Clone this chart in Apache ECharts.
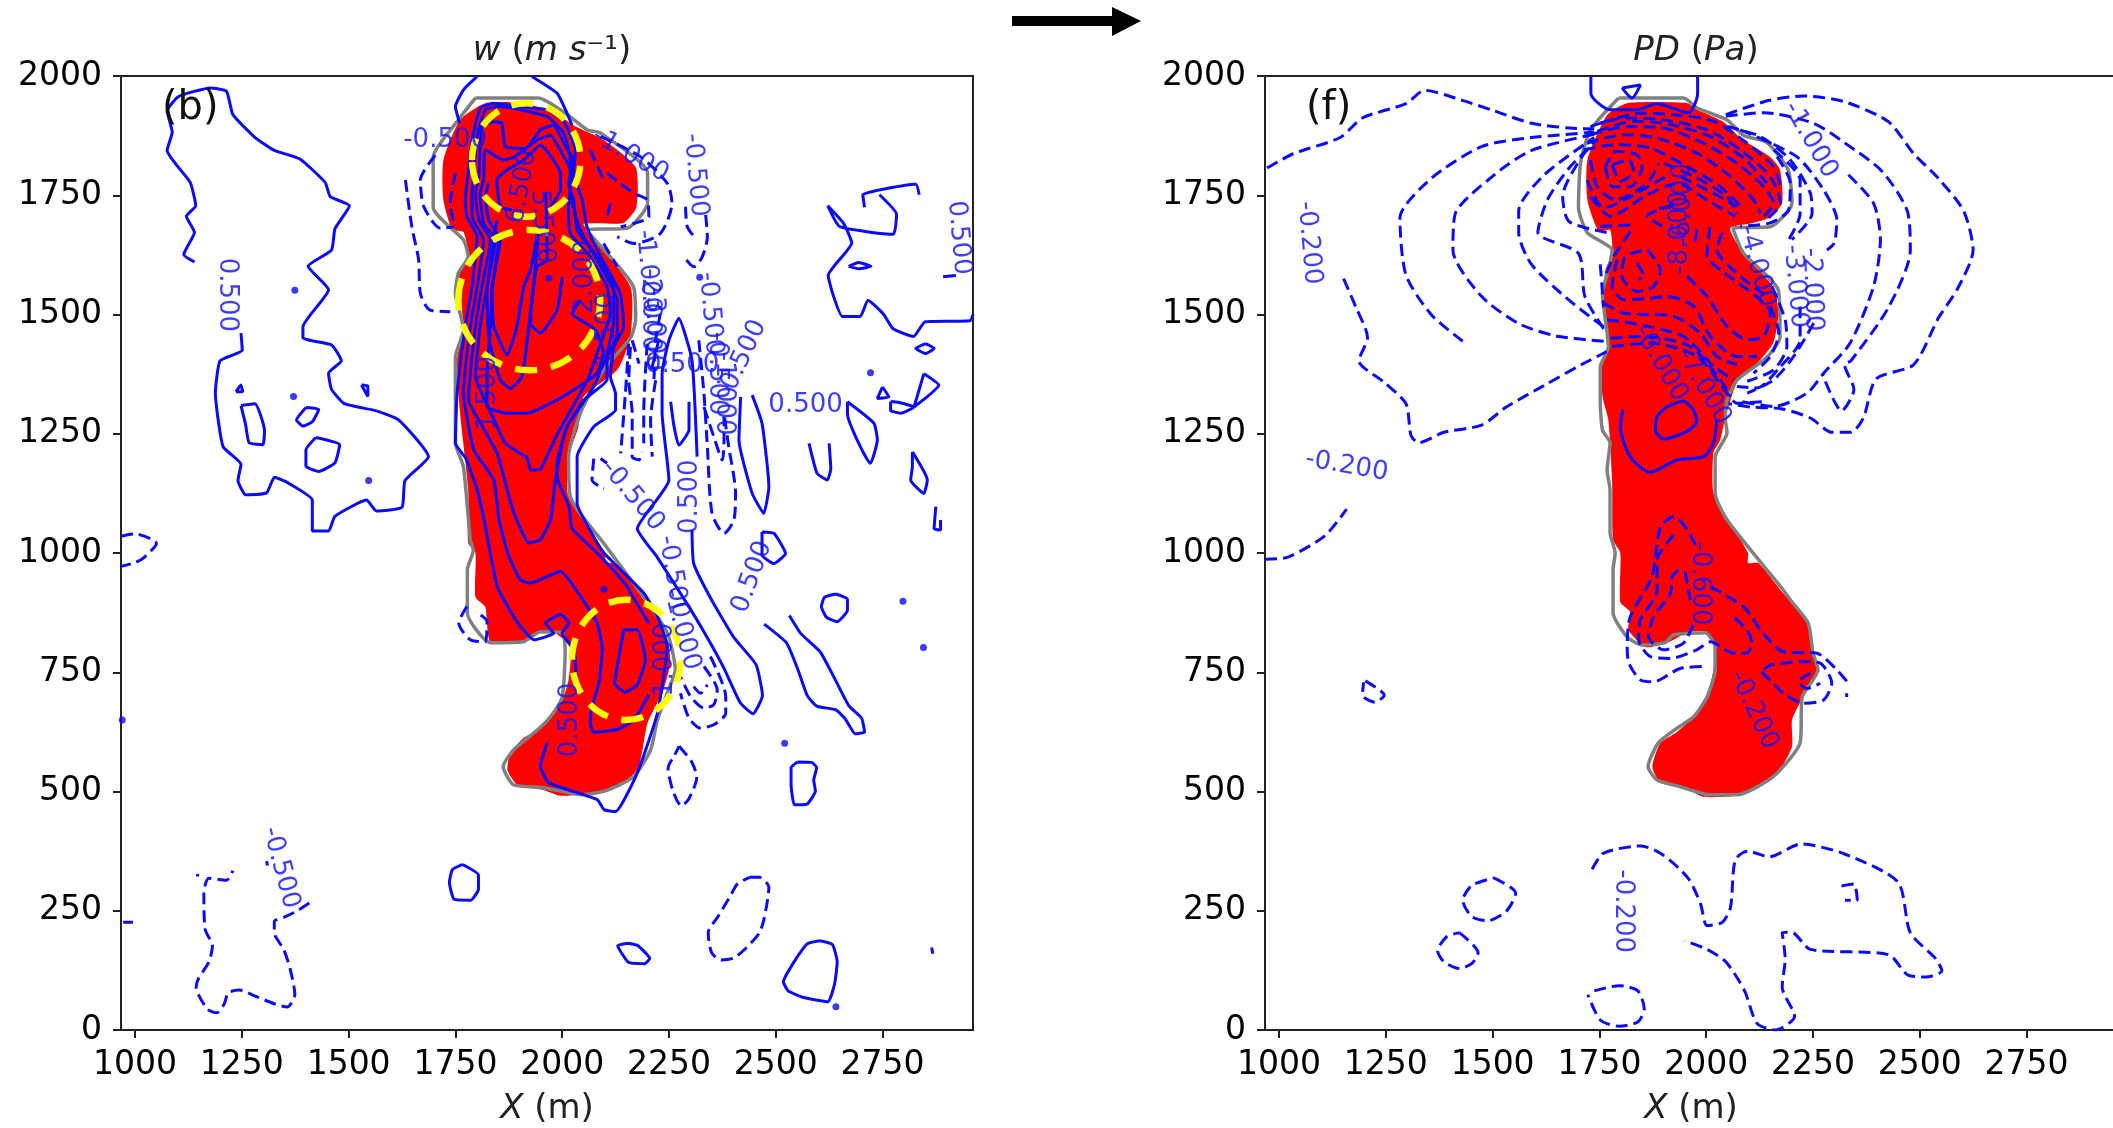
<!DOCTYPE html>
<html><head><meta charset="utf-8">
<style>html,body{margin:0;padding:0;background:#fff;overflow:hidden}#c{width:2113px;height:1128px}</style>
<script src="https://cdn.jsdelivr.net/npm/echarts@6/dist/echarts.min.js"></script>
</head><body><div id="c"></div>
<script>
const xTicks=[1000,1250,1500,1750,2000,2250,2500,2750];
const yTicks=[0,250,500,750,1000,1250,1500,1750,2000];

const plumeW=[[1820,1943],[1909,1943],[1979,1925],[2026,1897],[2097,1866],[2172,1809],[2174,1725],[2143,1692],[2050,1690],[2066,1671],[2160,1558],[2160,1453],[2129,1384],[2050,1327],[2038,1264],[2015,1201],[2015,1118],[2101,1000],[2101,979],[2120,979],[2190,916],[2246,818],[2253,770],[2237,713],[2200,644],[2188,587],[2176,545],[2129,510],[2082,497],[1996,491],[1956,503],[1895,514],[1872,545],[1879,581],[1909,612],[1942,629],[1977,661],[2000,692],[2015,734],[2019,803],[1979,835],[1949,835],[1902,814],[1832,814],[1820,887],[1797,908],[1797,1000],[1780,1021],[1780,1132],[1761,1294],[1754,1405],[1769,1474],[1757,1579],[1780,1621],[1769,1673],[1743,1677],[1722,1740],[1722,1824],[1761,1908]];
const outlineW=[[1797,1954],[1944,1954],[2003,1925],[2059,1887],[2089,1881],[2200,1797],[2200,1734],[2153,1681],[2059,1677],[2167,1558],[2172,1489],[2160,1451],[2097,1384],[2043,1294],[2015,1201],[2019,1118],[2097,1021],[2190,908],[2246,833],[2265,755],[2246,707],[2223,650],[2207,587],[2167,531],[2106,503],[2050,493],[1956,508],[1886,514],[1862,552],[1886,587],[1942,629],[1972,656],[2000,698],[2007,797],[2000,833],[1949,835],[1909,814],[1832,812],[1778,874],[1778,965],[1792,1006],[1785,1027],[1769,1180],[1750,1231],[1750,1336],[1750,1411],[1769,1468],[1750,1545],[1757,1587],[1780,1621],[1769,1656],[1698,1725],[1698,1830],[1757,1908],[1797,1954]];
const plumeP=[[1815,1943],[1956,1943],[1979,1929],[2040,1904],[2080,1870],[2150,1830],[2173,1803],[2178,1734],[2150,1704],[2110,1692],[2056,1681],[2087,1629],[2157,1558],[2169,1503],[2157,1440],[2110,1388],[2073,1359],[2045,1285],[2033,1237],[2017,1210],[2017,1126],[2049,1076],[2098,1000],[2098,979],[2122,979],[2180,916],[2239,853],[2248,791],[2262,755],[2227,698],[2201,650],[2201,594],[2166,539],[2080,493],[1993,489],[1946,510],[1893,518],[1874,552],[1893,602],[1932,625],[1970,656],[2002,698],[2017,755],[2021,803],[2002,835],[1956,833],[1909,812],[1857,803],[1818,839],[1822,877],[1799,897],[1799,1000],[1782,1027],[1780,1147],[1771,1279],[1759,1321],[1752,1377],[1771,1440],[1759,1516],[1764,1593],[1780,1629],[1775,1677],[1747,1677],[1722,1740],[1722,1824],[1768,1918]];
const outlineP=[[1795,1954],[1947,1954],[1979,1933],[2049,1908],[2087,1876],[2143,1860],[2192,1803],[2201,1734],[2150,1684],[2063,1681],[2087,1629],[2169,1551],[2173,1453],[2143,1411],[2073,1363],[2049,1321],[2045,1279],[2049,1252],[2021,1201],[2021,1126],[2049,1069],[2180,923],[2197,902],[2239,853],[2250,791],[2262,755],[2225,698],[2220,602],[2157,531],[2073,493],[2009,493],[1939,510],[1885,524],[1864,552],[1888,602],[1932,633],[1970,656],[2002,698],[2021,755],[2021,803],[1998,833],[1923,828],[1904,812],[1851,807],[1815,824],[1782,874],[1782,965],[1787,1000],[1775,1042],[1775,1132],[1768,1174],[1775,1231],[1757,1258],[1752,1321],[1752,1390],[1771,1432],[1757,1545],[1771,1593],[1780,1635],[1722,1671],[1701,1725],[1706,1818],[1729,1887],[1795,1954]];

const yellowCircles=[[1916,1824,127,119],[1923,1530,166,147],[2150,776,127,126]];

const wSolid=[
[[1139,1610],[1114,1626],[1139,1672],[1120,1706],[1142,1728],[1129,1777],[1075,1844],[1087,1882],[1075,1927],[1102,1957],[1176,1975],[1214,1968],[1229,1919],[1281,1871],[1326,1844],[1386,1826],[1445,1777],[1457,1747],[1502,1728],[1468,1680],[1460,1635],[1405,1601],[1453,1552],[1393,1474],[1393,1451],[1460,1436],[1483,1403],[1453,1377],[1460,1343],[1490,1313],[1565,1298],[1617,1279],[1687,1202],[1632,1152],[1625,1096],[1565,1088],[1542,1111],[1468,1077],[1453,1046],[1415,1046],[1415,1111],[1356,1148],[1326,1159],[1308,1126],[1259,1122],[1241,1152],[1248,1186],[1206,1223],[1188,1335],[1199,1403],[1251,1425],[1248,1461]],
[[1248,1309],[1281,1313],[1303,1257],[1299,1227],[1267,1231],[1259,1268],[1248,1309]],
[[1400,1305],[1430,1301],[1415,1275],[1393,1266],[1378,1279],[1400,1305]],
[[1423,1242],[1479,1227],[1468,1189],[1430,1171],[1400,1182],[1400,1216],[1423,1242]],
[[1767,347],[1804,325],[1804,295],[1786,272],[1747,274],[1736,310],[1743,336],[1767,347]],
[[2155,182],[2177,177],[2205,150],[2193,139],[2155,142],[2130,177],[2155,182]],
[[2603,187],[2633,179],[2644,143],[2638,97],[2622,59],[2566,68],[2529,82],[2518,101],[2551,154],[2574,181],[2603,187]],
[[2551,562],[2584,561],[2596,550],[2589,524],[2593,501],[2574,474],[2544,472],[2536,516],[2536,550],[2551,562]],
[[2641,914],[2668,903],[2668,880],[2644,856],[2619,865],[2607,888],[2614,907],[2641,914]],
[[2532,869],[2559,831],[2604,793],[2634,744],[2671,680],[2701,654],[2708,625],[2686,621],[2663,652],[2641,671],[2596,679],[2574,701],[2551,758],[2525,812],[2473,851]],
[[2304,1048],[2308,978],[2349,903],[2402,823],[2454,766],[2469,701],[2447,663],[2417,686],[2379,758],[2342,819],[2297,887],[2222,992],[2176,1051],[2250,1153],[2234,1293],[2234,1376],[2250,1446],[2273,1492],[2304,1404],[2316,1202]],
[[2254,1317],[2262,1265],[2273,1226],[2297,1258],[2297,1317]],
[[2418,1327],[2414,1237],[2445,1125],[2472,1083],[2484,1139],[2468,1272],[2445,1331]],
[[2668,1317],[2730,1272],[2738,1237],[2722,1188],[2668,1292],[2668,1317]],
[[2578,1230],[2597,1167],[2621,1153],[2629,1177],[2625,1230]],
[[2468,1044],[2496,1041],[2523,999],[2496,978],[2468,996],[2468,1044]],
[[2820,1212],[2855,1153],[2847,1125],[2816,1153],[2820,1181],[2820,1212]],
[[2875,1097],[2871,1051],[2886,1048],[2886,1069]],
[[2847,1376],[2882,1352],[2824,1306],[2847,1376]],
[[2769,1317],[2769,1299],[2793,1293],[2824,1306],[2777,1317],[2769,1317]],
[[2750,1348],[2765,1327],[2738,1324],[2750,1348]],
[[2851,1439],[2871,1429],[2851,1418],[2828,1429],[2851,1439]],
[[2962,1500],[2955,1487],[2850,1485],[2823,1454],[2775,1470],[2753,1500],[2716,1530],[2698,1496],[2656,1496],[2633,1545],[2623,1582],[2678,1650],[2659,1691],[2622,1728],[2650,1684],[2775,1668],[2783,1710],[2743,1751]],
[[2708,1725],[2704,1751],[2828,1773],[2836,1751]],
[[2671,1601],[2694,1609],[2723,1601],[2694,1596],[2671,1601]],
[[2892,1579],[2922,1582]],
[[972,226],[995,226]],
[[2865,173],[2868,160]],
[[1236,1338],[1248,1352],[1252,1338],[1236,1338]],
[[1530,1352],[1545,1350],[1545,1328],[1530,1352]],
[[1801,1999],[1769,1971],[1750,1936],[1760,1901]],
[[1929,1999],[1988,1964],[2008,1929],[2023,1897]],
[[1965,602],[1949,553],[1969,518],[2082,483],[2098,462],[2125,458],[2176,539],[2223,664],[2246,804],[2223,867],[2191,916],[2098,1000],[2074,1034],[2035,1104],[2035,1202],[2074,1265],[2125,1300],[2125,1334],[2113,1369],[2121,1432],[2144,1475],[2136,1544],[2090,1621],[2058,1684],[2047,1740],[2027,1796],[2031,1845],[2004,1904],[1965,1929],[1894,1936],[1840,1943],[1808,1932],[1789,1866],[1781,1803],[1773,1740],[1777,1705],[1801,1663],[1789,1558],[1773,1475],[1754,1335],[1750,1230],[1774,1199],[1801,1132],[1817,1070],[1848,930],[1891,860],[1934,818],[1980,832],[1961,853],[1996,871],[2016,853],[2000,832],[2027,797],[2033,741]],
[[2203,703],[2168,650],[2129,630],[2074,624],[2066,644],[2070,678],[2086,727],[2094,797],[2082,853],[2043,909],[1996,961],[1926,937],[1902,944],[1875,993],[1852,1070],[1840,1153],[1793,1216],[1774,1300],[1769,1335],[1785,1474],[1801,1558],[1816,1656],[1789,1705],[1789,1754],[1793,1789],[1801,1873],[1820,1929],[1855,1936],[1902,1929],[1965,1915],[2004,1880],[2019,1824],[2019,1803],[2019,1754],[2043,1677],[2082,1614],[2129,1530],[2129,1460],[2090,1384],[2082,1363],[2059,1328],[2012,1265],[1988,1188],[1988,1160],[2016,1097],[2023,1052],[2090,993],[2152,930],[2160,916],[2203,853]],
[[2105,1419],[2121,1488],[2121,1558],[2082,1621],[2035,1677],[2027,1740],[2015,1775],[2027,1824],[2008,1852],[1980,1897],[1949,1887],[1914,1848],[1867,1852],[1859,1901],[1840,1904],[1812,1894],[1805,1789],[1797,1754],[1805,1698],[1832,1656],[1812,1558],[1797,1475],[1781,1321],[1809,1272],[1848,1209],[1863,1160],[1887,1084],[1922,1021],[1949,1028],[1973,1070],[1984,1153],[2008,1258],[2051,1321],[2105,1363],[2105,1419]],
[[2090,1440],[2113,1502],[2105,1558],[2066,1621],[2019,1670],[2015,1726],[2023,1796],[2004,1831],[1972,1876],[1941,1866],[1890,1831],[1863,1824],[1820,1845],[1816,1782],[1808,1754],[1816,1691],[1844,1656],[1824,1558],[1808,1475],[1797,1370],[1828,1304],[1867,1230],[1918,1199],[1926,1174],[1949,1176],[1988,1248],[2059,1363],[2090,1440]],
[[2043,1530],[2023,1502],[2078,1468],[2097,1419],[2082,1377],[2051,1356],[1988,1321],[1918,1293],[1871,1293],[1824,1307],[1824,1370],[1832,1475],[1836,1558],[1855,1656],[1828,1698],[1820,1747],[1828,1775]],
[[1855,1670],[1836,1544],[1840,1475],[1871,1415],[1894,1475],[1910,1558],[1926,1593],[1941,1663]],
[[1847,1698],[1824,1544],[1828,1453],[1855,1363],[1879,1345],[1906,1370],[1922,1475],[1933,1558],[1945,1677]],
[[1883,1719],[1855,1726],[1847,1782],[1871,1803],[1910,1824],[1949,1855],[1996,1796],[1996,1761],[1972,1726]],
[[2000,1579],[1988,1509],[1949,1461],[1926,1481],[1929,1530],[1941,1600],[1965,1614],[1962,1754]],
[[2144,839],[2176,839],[2195,776],[2176,724],[2148,708],[2123,727],[2133,783],[2144,839]]
];
const wDashed=[
[[967,1035],[1000,1040],[1050,1020],[1020,990],[1000,980],[967,972]],
[[1408,266],[1378,249],[1348,236],[1326,228],[1326,204],[1348,169],[1363,128],[1374,74],[1356,48],[1326,55],[1281,71],[1244,84],[1218,78],[1209,55],[1191,36],[1169,44],[1143,90],[1149,109],[1173,143],[1181,177],[1164,211],[1161,287],[1173,318],[1214,314],[1229,334]],
[[1146,327],[1147,322]],
[[1308,354],[1310,345]],
[[2439,320],[2462,320],[2484,299],[2473,234],[2462,204],[2432,173],[2402,151],[2372,147],[2350,162],[2342,204],[2365,238],[2395,283],[2410,306],[2439,320]],
[[2274,595],[2304,561],[2315,530],[2297,485],[2279,470],[2260,500],[2248,549],[2263,576],[2274,595]],
[[1633,1782],[1648,1684],[1664,1614],[1668,1544],[1691,1509],[1738,1506]],
[[1703,1834],[1668,1782],[1676,1726],[1715,1681],[1746,1684]],
[[1750,1796],[1738,1733],[1746,1691]],
[[2090,1873],[2183,1831],[2246,1775],[2257,1733],[2230,1670],[2168,1649],[2129,1663]],
[[2105,1796],[2168,1754],[2199,1740],[2203,1705],[2168,1691],[2137,1684]],
[[2113,1733],[2105,1705]],
[[2097,1649],[2129,1600]],
[[2066,1845],[2097,1782]],
[[2289,1726],[2293,1684],[2312,1660]],
[[2336,1709],[2340,1663],[2328,1621],[2308,1600],[2285,1621]],
[[2164,1446],[2180,1397]],
[[2160,1432],[2156,1362],[2164,1293],[2164,1202],[2180,1195],[2187,1212]],
[[2156,1439],[2148,1334],[2137,1209]],
[[2199,1439],[2191,1293],[2191,1230]],
[[2219,1362],[2207,1279],[2211,1202]],
[[2230,1502],[2219,1446],[2215,1362]],
[[2226,1446],[2207,1376]],
[[2320,1446],[2332,1334],[2340,1223],[2351,1083],[2379,1041],[2402,1069],[2406,1125],[2390,1223],[2379,1293]],
[[2332,1306],[2355,1244],[2375,1195],[2379,1244],[2379,1285]],
[[2074,1198],[2070,1153],[2098,1135]],
[[2090,1198],[2105,1188]],
[[1777,888],[1758,853],[1785,818],[1820,814],[1824,856],[1797,877]],
[[2347,783],[2383,699],[2383,664],[2355,640],[2324,633],[2297,654],[2277,706]],
[[2332,762],[2363,713],[2355,682],[2332,675],[2301,699],[2277,741]],
[[2308,720],[2324,706],[2340,724]]
];
const wDots=[[1374,1551],[1371,1328],[1547,1152],[970,650],[2641,49],[2798,899],[2846,802],[2521,601],[2722,1378],[2322,1578],[1969,1576],[2121,900],[2098,924]];
const wLabels=[
[1214,1541,'0.500',-90],[1726,1866,'-0.500',0],[2160,1834,'-1.000',-30],[1906,1768,'6.500',80],[1953,1684,'5.500',-85],[2054,1579,'2.000',90],[2105,1468,'1.500',90],[2200,1590,'-1.000',-85],[2205,1509,'-2.000',-90],[2215,1470,'-3.000',-90],[2281,1394,'0.500',0],[2347,1502,'-0.500',-85],[2363,1376,'-0.500',-90],[2379,1334,'-1.000',-90],[2426,1415,'0.500',65],[2570,1310,'0.500',0],[2301,1118,'0.500',90],[2165,1120,'-0.500',-50],[2260,950,'-0.500',-80],[2280,840,'-1.000',-75],[2445,950,'0.500',70],[2020,650,'0.500',90],[2242,776,'1.000',90],[2312,1792,'-0.500',-85],[2929,1661,'0.500',-85],[1341,340,'-0.500',-75],[1826,1335,'1.500',90]
];

const pdSolid=[
[[1730,1998],[1730,1964],[1776,1929],[1838,1929],[1884,1942],[1958,1923],[1980,1964],[1980,1998]],
[[1803,1975],[1846,1981],[1826,1954],[1803,1975]],
[[1908,1307],[1947,1318],[1970,1300],[1978,1276],[1955,1255],[1900,1239],[1881,1258],[1885,1286],[1908,1307]],
[[1805,1300],[1799,1265],[1822,1202],[1869,1169],[1931,1195],[1994,1202],[2017,1230],[2025,1279]]
];
const pdDashed=[
[[972,1807],[1033,1837],[1143,1871],[1195,1912],[1297,1942],[1341,1970],[1429,1949],[1503,1927],[1591,1901],[1679,1891],[1738,1889]],
[[1151,1575],[1180,1515],[1207,1452],[1187,1403],[1246,1358],[1297,1313],[1309,1246],[1327,1231],[1386,1253],[1474,1268],[1532,1306],[1620,1351],[1708,1395],[1767,1422]],
[[967,987],[1019,991],[1107,1036],[1158,1092]],
[[1430,1444],[1356,1500],[1297,1583],[1283,1702],[1356,1785],[1474,1852],[1591,1871],[1738,1882]],
[[1760,1444],[1649,1455],[1561,1481],[1474,1538],[1407,1635],[1412,1710],[1503,1792],[1591,1844],[1738,1878]],
[[1760,1474],[1679,1530],[1591,1605],[1561,1672],[1561,1717],[1620,1792],[1738,1871]],
[[1760,1470],[1716,1538],[1701,1628],[1606,1672],[1628,1740],[1679,1807],[1738,1860]],
[[1767,1672],[1679,1695],[1664,1747],[1708,1830],[1745,1867]],
[[1752,1605],[1760,1515]],
[[2046,1919],[2148,1949],[2229,1958],[2324,1946],[2427,1904],[2486,1837],[2544,1785],[2603,1717],[2625,1635],[2588,1553],[2544,1493],[2486,1395],[2398,1365],[2368,1283],[2339,1253],[2295,1253],[2244,1283],[2178,1302],[2104,1306],[2053,1313]],
[[2046,1916],[2134,1923],[2251,1901],[2324,1860],[2412,1800],[2471,1717],[2478,1635],[2427,1515],[2339,1403],[2324,1395],[2346,1343],[2317,1298],[2273,1373]],
[[2333,1793],[2392,1733],[2408,1657],[2392,1559],[2337,1440],[2275,1377],[2236,1335],[2158,1307],[2080,1318]],
[[2080,1887],[2212,1831],[2275,1761],[2306,1698],[2300,1650],[2283,1635]],
[[2252,1482],[2205,1412],[2158,1363],[2096,1335]],
[[2049,1894],[2127,1873],[2197,1824],[2244,1754],[2248,1712],[2201,1657]],
[[2220,1517],[2220,1447],[2174,1391],[2119,1346],[2072,1349]],
[[2158,1845],[2220,1782],[2220,1712],[2189,1650]],
[[2166,1831],[2197,1775],[2193,1719],[2150,1692],[2080,1685]],
[[2154,1559],[2185,1489],[2189,1433],[2158,1384],[2096,1360]],
[[2150,1517],[2170,1461],[2150,1412],[2111,1377]],
[[1729,1894],[1807,1912],[1901,1908],[2002,1887],[2080,1845],[2150,1789],[2174,1733],[2142,1699]],
[[1729,1877],[1815,1894],[1901,1891],[1994,1859],[2072,1817],[2127,1775],[2158,1733],[2135,1706]],
[[1721,1859],[1807,1877],[1885,1870],[1979,1838],[2057,1789],[2111,1740],[2127,1713]],
[[1713,1845],[1784,1856],[1869,1849],[1955,1810],[2033,1768],[2088,1720]],
[[1901,1817],[1979,1786],[2049,1747],[2072,1712]],
[[1940,1789],[2018,1754],[2072,1726]],
[[1752,1901],[1846,1922],[1924,1919],[2018,1905],[2096,1859],[2158,1810],[2177,1761]],
[[1745,1884],[1830,1905],[1908,1900],[2010,1873],[2088,1828],[2142,1775]],
[[1780,1814],[1799,1779],[1830,1800],[1819,1824],[1780,1814]],
[[1764,1810],[1780,1768],[1823,1768],[1850,1810],[1838,1835],[1788,1842],[1764,1810]],
[[1729,1824],[1745,1768],[1788,1740],[1862,1775],[1889,1817]],
[[1721,1782],[1760,1723],[1823,1747],[1912,1793]],
[[1729,1747],[1776,1706],[1862,1751],[1932,1775],[2002,1740],[2068,1706]],
[[1752,1685],[1826,1688]],
[[1924,1730],[1862,1706],[1897,1685]],
[[1889,1723],[1932,1726]],
[[1823,1674],[1784,1622],[1764,1580]],
[[1862,1636],[1893,1594],[1877,1559],[1838,1548],[1803,1580],[1811,1622],[1862,1636]],
[[1838,1608],[1854,1580],[1842,1573]],
[[1791,1615],[1780,1559],[1807,1531],[1869,1534],[1908,1538],[1971,1517],[2010,1454],[2072,1412],[2119,1412]],
[[1760,1524],[1807,1503],[1924,1496],[1986,1461],[2025,1412],[2072,1395]],
[[1768,1489],[1823,1482],[1947,1454],[2018,1391],[2064,1363]],
[[1776,1450],[1854,1454],[1963,1433],[2033,1363],[2057,1328]],
[[1780,1433],[1869,1440],[1979,1412],[2049,1335],[2072,1314],[2142,1318]],
[[1955,1580],[2002,1538],[2049,1475],[2096,1447],[2135,1454],[2150,1503],[2127,1531],[2033,1594],[2002,1622],[2010,1692]],
[[2037,1671],[2025,1636],[2080,1580],[2142,1538]],
[[1979,1678],[1971,1643]],
[[1975,1017],[1951,1055],[1924,1076],[1893,1055],[1873,950],[1822,866],[1815,804],[1819,769],[1846,734],[1877,730],[1939,758],[2002,762]],
[[1924,1038],[1885,985],[1885,922],[1846,860],[1842,818],[1869,783],[1916,779],[1978,797],[2010,814],[2064,790],[2095,790],[2107,811],[2095,839],[2064,866]],
[[1935,964],[1920,950],[1916,915],[1877,866],[1865,825],[1900,797],[1947,811],[1971,853]],
[[1951,961],[1963,901]],
[[2010,929],[2088,887],[2134,831],[2181,793],[2259,790],[2306,755],[2337,723]],
[[2329,706],[2329,698]],
[[2130,751],[2181,706],[2228,685],[2275,692],[2294,727],[2267,769],[2228,772],[2150,765],[2130,751]],
[[2244,748],[2216,730],[2236,716],[2267,727]],
[[1202,732],[1246,702],[1224,687],[1195,702],[1198,729]],
[[1503,319],[1554,287],[1532,249],[1488,229],[1451,238],[1430,272],[1451,303],[1503,319]],
[[1422,204],[1466,162],[1451,139],[1422,129],[1386,143],[1371,166],[1393,196],[1422,204]],
[[1738,82],[1796,93],[1840,82],[1855,44],[1840,17],[1796,8],[1752,21],[1723,74]],
[[1733,337],[1760,371],[1848,386],[1899,367],[1958,318],[1987,264],[2002,219],[2038,226],[2057,257],[2068,356],[2097,375],[2148,363],[2222,390],[2324,369],[2449,310],[2478,204],[2537,150],[2552,124],[2515,111],[2471,116],[2427,158],[2244,169],[2200,205],[2178,204],[2185,150],[2178,90],[2207,29],[2163,0],[2119,14],[2090,82],[2046,143],[2002,169],[1950,187]],
[[2317,302],[2346,306],[2354,272],[2325,272]]
];
const pdLabels=[
[1070,1650,'-0.200',-85],[1158,1182,'-0.200',-10],[1804,249,'-0.200',-90],[2111,671,'-0.200',-65],[1986,936,'-0.600',-90],[2244,1866,'-1.000',-60],[2248,1552,'-2.000',-88],[2209,1559,'-3.000',-85],[2119,1601,'-4.000',-75],[1940,1671,'-8.000',90],[1947,1730,'-6.000',90],[1893,1398,'-6.000',-60],[1994,1349,'-7.000',-60]
];

const FONT='"DejaVu Sans"';
const BLUE='#0a0aff';
function polygonSeries(pts,idx){
  return {type:'custom',xAxisIndex:idx,yAxisIndex:idx,z:2,silent:true,encode:{x:0,y:1},data:pts,
    renderItem(p,api){ if(p.dataIndex!==0) return null;
      return {type:'polygon',shape:{points:pts.map(q=>api.coord(q)),smooth:.2},style:{fill:'#ff0000',stroke:null}};}};
}
function lineSeries(pts,idx,opt){
  return {type:'line',xAxisIndex:idx,yAxisIndex:idx,data:pts,symbol:'none',silent:true,z:opt.z,smooth:opt.smooth,animation:false,
    lineStyle:{color:opt.color,width:opt.width,type:opt.dash||'solid'}};
}
function labelSeries(list,idx){
  return {type:'custom',xAxisIndex:idx,yAxisIndex:idx,z:7,silent:true,encode:{x:0,y:1},data:list.map(l=>[l[0],l[1]]),
    renderItem(p,api){ const l=list[p.dataIndex]; const c=api.coord([l[0],l[1]]);
      return {type:'text',x:c[0],y:c[1],rotation:l[3]*Math.PI/180,
        style:{text:l[2],fill:'#1414ff',opacity:.82,font:'26px '+FONT,align:'center',verticalAlign:'middle'}};}};
}
const series=[
 polygonSeries(plumeW,0),polygonSeries(plumeP,1),
 lineSeries(outlineW,0,{z:3,color:'#808080',width:3.5,smooth:.2}),
 lineSeries(outlineP,1,{z:3,color:'#808080',width:3.5,smooth:.2})
];
wSolid.forEach(p=>series.push(lineSeries(p,0,{z:4,color:BLUE,width:3,smooth:.15})));
wDashed.forEach(p=>series.push(lineSeries(p,0,{z:4,color:BLUE,width:3,smooth:.25,dash:[12,6]})));
pdSolid.forEach(p=>series.push(lineSeries(p,1,{z:4,color:BLUE,width:3,smooth:.25})));
pdDashed.forEach(p=>series.push(lineSeries(p,1,{z:4,color:BLUE,width:3,smooth:.25,dash:[12,6]})));
series.push({type:'scatter',xAxisIndex:0,yAxisIndex:0,z:4,silent:true,symbolSize:7,itemStyle:{color:BLUE},data:wDots});
series.push({type:'custom',xAxisIndex:0,yAxisIndex:0,z:6,silent:true,encode:{x:0,y:1},data:yellowCircles,
  renderItem(p,api){ const c=api.coord([api.value(0),api.value(1)]); const s=api.size([api.value(2),api.value(3)]);
    return {type:'ellipse',shape:{cx:c[0],cy:c[1],rx:s[0],ry:s[1]},style:{fill:null,stroke:'#ffff00',lineWidth:6.5,lineDash:[22,14]}};}});
series.push(labelSeries(wLabels,0),labelSeries(pdLabels,1));

const plainNum=v=>String(v);
const richText={i:{fontFamily:FONT,fontSize:34,fontStyle:'italic',fontWeight:'normal',color:'#222'},n:{fontFamily:FONT,fontSize:34,fontWeight:'normal',color:'#222'}};
function xAxis(idx){return {type:'value',gridIndex:idx,min:967,max:2962,position:'bottom',
  name:'{i|X\u00a0}{n|(m)}',nameLocation:'middle',nameGap:62,
  nameTextStyle:{fontWeight:'normal',rich:richText},
  splitLine:{show:false},axisLine:{show:true,onZero:false,lineStyle:{color:'#222',width:2}},
  axisTick:{show:true,length:8,customValues:xTicks,lineStyle:{color:'#222',width:2}},
  axisLabel:{customValues:xTicks,formatter:plainNum,fontFamily:FONT,fontSize:33,color:'#000',margin:19,showMinLabel:true,showMaxLabel:true}};}
function yAxis(idx){return {type:'value',gridIndex:idx,min:0,max:2000,interval:250,
  splitLine:{show:false},axisLine:{show:true,onZero:false,lineStyle:{color:'#222',width:2}},
  axisTick:{show:true,length:8,lineStyle:{color:'#222',width:2}},
  axisLabel:{formatter:plainNum,fontFamily:FONT,fontSize:33,color:'#000',margin:19,padding:[8,0,0,0]}};}
const chart=echarts.init(document.getElementById('c'),null,{renderer:'canvas'});
chart.setOption({
 animation:false,backgroundColor:'#fff',
 title:[
  {text:'{i|w\u00a0}{n|(}{i|m\u00a0s}{n|⁻¹)}',left:547,top:29,textAlign:'center',textStyle:{fontWeight:'normal',rich:richText}},
  {text:'{i|PD\u00a0}{n|(}{i|Pa}{n|)}',left:1691,top:29,textAlign:'center',textStyle:{fontWeight:'normal',rich:richText}}
 ],
 grid:[{left:121,top:76,width:852,height:954,show:true,borderColor:'#222',borderWidth:2,backgroundColor:'transparent',outerBoundsMode:'none'},
       {left:1265,top:76,width:852,height:954,show:true,borderColor:'#222',borderWidth:2,backgroundColor:'transparent',outerBoundsMode:'none'}],
 xAxis:[xAxis(0),xAxis(1)],yAxis:[yAxis(0),yAxis(1)],series,
 graphic:[
  {type:'text',z:100,x:162,y:89,style:{text:'(b)',font:'40px '+FONT,fill:'#111'}},
  {type:'text',z:100,x:1306,y:89,style:{text:'(f)',font:'40px '+FONT,fill:'#111'}},
  {type:'polygon',z:100,shape:{points:[[1012,16],[1112,16],[1112,7],[1141,21],[1112,36],[1112,26],[1012,26]]},style:{fill:'#000'}}
 ]
});
</script></body></html>
